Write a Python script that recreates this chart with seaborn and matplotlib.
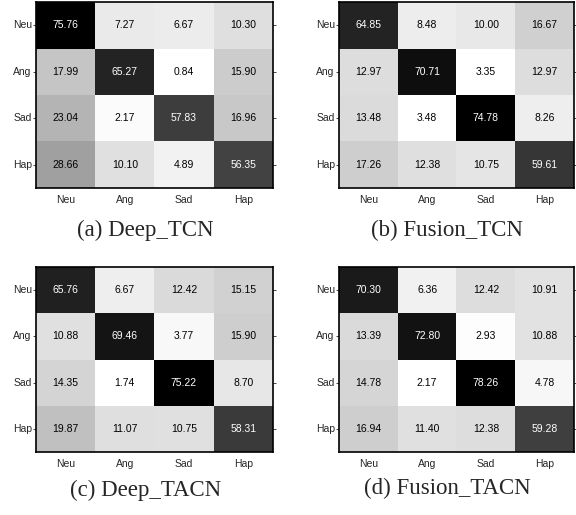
import numpy as np
import pandas as pd
import seaborn as sns
import matplotlib.pyplot as plt
from matplotlib import font_manager

classes = ["Neu", "Ang", "Sad", "Hap"]

deep_tcn = [[75.76, 7.27, 6.67, 10.30],
            [17.99, 65.27, 0.84, 15.90],
            [23.04, 2.17, 57.83, 16.96],
            [28.66, 10.10, 4.89, 56.35]]

fusion_tcn = [[64.85, 8.48, 10.00, 16.67],
              [12.97, 70.71, 3.35, 12.97],
              [13.48, 3.48, 74.78, 8.26],
              [17.26, 12.38, 10.75, 59.61]]

deep_tacn = [[65.76, 6.67, 12.42, 15.15],
             [10.88, 69.46, 3.77, 15.90],
             [14.35, 1.74, 75.22, 8.70],
             [19.87, 11.07, 10.75, 58.31]]

fusion_tacn = [[70.30, 6.36, 12.42, 10.91],
               [13.39, 72.80, 2.93, 10.88],
               [14.78, 2.17, 78.26, 4.78],
               [16.94, 11.40, 12.38, 59.28]]

captions = ["(a) Deep_TCN", "(b) Fusion_TCN", "(c) Deep_TACN", "(d) Fusion_TACN"]

sns.set_style("white")
# pick the regular (not Narrow) Liberation Sans file
sans_path = None
for f in font_manager.fontManager.ttflist:
    if f.name == "Liberation Sans" and f.style == "normal" and f.weight == 400 and "Narrow" not in f.fname:
        sans_path = f.fname
        break
sans = font_manager.FontProperties(fname=sans_path) if sans_path else font_manager.FontProperties(family="DejaVu Sans")

fig = plt.figure(figsize=(5.76, 5.15), dpi=100)

# axes boxes [left, bottom, width, height] in figure fractions
boxes = [[0.0625, 0.635, 0.411, 0.361],
         [0.5885, 0.635, 0.408, 0.361],
         [0.0625, 0.1223, 0.411, 0.359],
         [0.5885, 0.1223, 0.408, 0.359]]
cap_pos = [(0.252, 0.553), (0.776, 0.553), (0.252, 0.048), (0.776, 0.052)]

for mat, cap, box, cp in zip([deep_tcn, fusion_tcn, deep_tacn, fusion_tacn], captions, boxes, cap_pos):
    ax = fig.add_axes(box)
    df = pd.DataFrame(mat, index=classes, columns=classes)
    vals = np.array(mat)
    sns.heatmap(df, ax=ax, cmap="gray_r", cbar=False, annot=False)
    lo, hi = vals.min(), vals.max()
    for i in range(len(classes)):
        for j in range(len(classes)):
            v = vals[i, j]
            col = "white" if (v - lo) / (hi - lo) > 0.5 else "black"
            ax.text(j + 0.5, i + 0.5, f"{v:.2f}", ha="center", va="center",
                    color=col, fontproperties=sans, fontsize=7.5)
    for s in ax.spines.values():
        s.set_visible(True)
        s.set_color("black")
        s.set_linewidth(1.2)
    ax.tick_params(axis="both", length=2, width=0.6, pad=1,
                   left=True, bottom=False, right=True, direction="out")
    ax.set_yticklabels(classes, rotation=0, fontproperties=sans, fontsize=7.5)
    ax.set_xticklabels(classes, rotation=0, fontproperties=sans, fontsize=7.5)
    ax.tick_params(axis="x", pad=3)
    fig.text(cp[0], cp[1], cap, ha="center", va="center", fontsize=16.5,
             family=["Liberation Serif", "DejaVu Serif"])

plt.savefig("out.png", dpi=100)
